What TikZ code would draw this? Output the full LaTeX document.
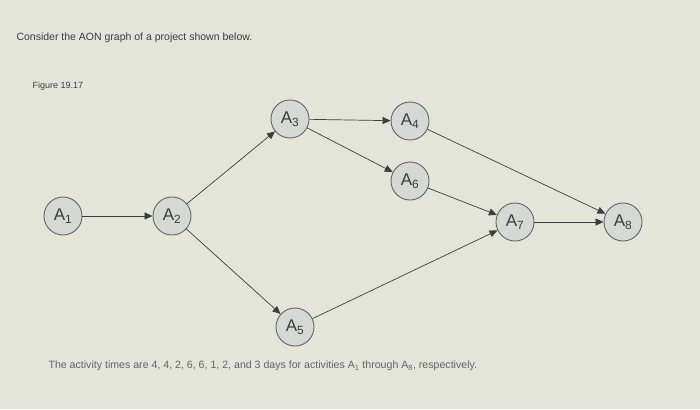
\documentclass[tikz,border=0pt]{standalone}
\usepackage{fontspec}
\setmainfont{Liberation Sans}
\usetikzlibrary{arrows.meta}
\definecolor{bg}{RGB}{226,229,216}
\definecolor{ink}{RGB}{60,60,65}
\definecolor{nd}{RGB}{214,216,212}
\newcommand{\sbs}[1]{\textsubscript{#1}}
\begin{document}
\begin{tikzpicture}[x=1pt,y=-1pt,
  act/.style={circle,draw=ink!80,fill=nd,line width=0.9pt,minimum size=38pt,inner sep=0pt,font=\fontsize{17}{17}\selectfont,text=ink},
  arr/.style={-{Triangle[length=8pt,width=7pt]},draw=ink,line width=0.7pt}]
\fill[bg] (0,0) rectangle (700,409);
\useasboundingbox (0,0) rectangle (700,409);
\node[anchor=west,font=\fontsize{10.5}{12}\selectfont,text=ink] (t1) at (13,38) {Consider the AON graph of a project shown below.};
\node[anchor=west,font=\fontsize{9}{10}\selectfont,text=ink] (t2) at (29,86) {Figure 19.17};
\node[act] (a1) at (63,216) {A\sbs{1}};
\node[act] (a2) at (172,216) {A\sbs{2}};
\node[act] (a3) at (290,119) {A\sbs{3}};
\node[act] (a4) at (410,121) {A\sbs{4}};
\node[act] (a6) at (410,181) {A\sbs{6}};
\node[act] (a7) at (515,222) {A\sbs{7}};
\node[act] (a8) at (623,222) {A\sbs{8}};
\node[act] (a5) at (295,327) {A\sbs{5}};
\node[anchor=west,font=\fontsize{10.6}{11}\selectfont,text=ink!80] (t3) at (45,366) {The activity times are 4, 4, 2, 6, 6, 1, 2, and 3 days for activities A\sbs{1} through A\sbs{8}, respectively.};
\draw[arr] (a1) -- (a2);
\draw[arr] (a2) -- (a3);
\draw[arr] (a2) -- (a5);
\draw[arr] (a3) -- (a4);
\draw[arr] (a3) -- (a6);
\draw[arr] (a4) -- (a8);
\draw[arr] (a6) -- (a7);
\draw[arr] (a5) -- (a7);
\draw[arr] (a7) -- (a8);
\end{tikzpicture}
\end{document}
